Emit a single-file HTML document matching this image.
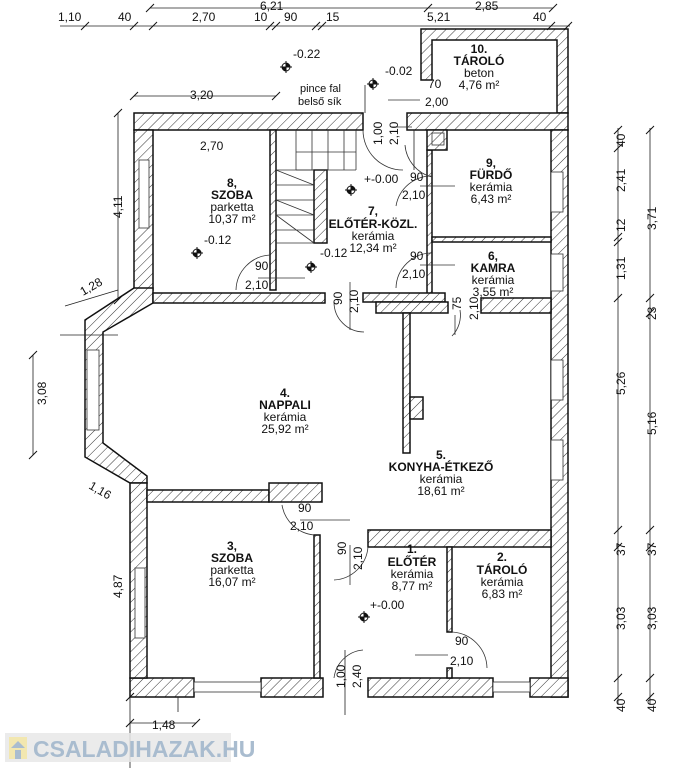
<!DOCTYPE html>
<html><head><meta charset="utf-8"><style>
html,body{margin:0;padding:0;background:#fff}
svg{display:block}
text{font-family:"Liberation Sans",sans-serif;fill:#111}
.t{font-size:12px}
.b{font-size:12px;font-weight:bold}
.d{font-size:12px}
</style></head><body>
<svg width="691" height="768" viewBox="0 0 691 768" xmlns="http://www.w3.org/2000/svg">
<defs>
<pattern id="h" width="7" height="7" patternUnits="userSpaceOnUse" patternTransform="rotate(45)">
<rect width="7" height="7" fill="#fff"/><line x1="0" y1="0" x2="0" y2="7" stroke="#333" stroke-width="1"/>
</pattern>
<g id="lv"><circle r="4" fill="none" stroke="#111" stroke-width="1"/><path d="M-6,0H6M0,-6V6" stroke="#111" stroke-width="1"/><path d="M0,-4A4,4 0 0 1 4,0H0Z M0,4A4,4 0 0 1 -4,0H0Z" fill="#111"/></g>
<g id="tk"><path d="M-4,4L4,-4" stroke="#111" stroke-width="1"/></g>
</defs>
<g fill="url(#h)" stroke="#111" stroke-width="1.5">
<path d="M421,29 H568 V113 H557 V40 H432 V80 H421 Z"/>
<rect x="134" y="113" width="229" height="17"/>
<rect x="407" y="113" width="161" height="17"/>
<rect x="134" y="130" width="19" height="160"/>
<path d="M134,288 L85,320 L85,457 L130,483 L147,483 L147,476 L103,443 L103,332 L153,303 L153,288 Z"/>
<rect x="551" y="130" width="17" height="567"/>
<rect x="130" y="678" width="64" height="19"/>
<rect x="261" y="678" width="62" height="19"/>
<rect x="368" y="678" width="125" height="19"/>
<rect x="530" y="678" width="38" height="19"/>
<rect x="130" y="483" width="17" height="195"/>
<rect x="270" y="130" width="6" height="160"/>
<rect x="153" y="293" width="172" height="10"/>
<rect x="314" y="170" width="13" height="73"/>
<rect x="427" y="150" width="5" height="150"/>
<rect x="432" y="237" width="119" height="5"/>
<rect x="363" y="293" width="82" height="9"/>
<rect x="376" y="302" width="72" height="11"/>
<rect x="403" y="313" width="7" height="140"/>
<rect x="410" y="397" width="13" height="22"/>
<rect x="481" y="298" width="70" height="15"/>
<rect x="147" y="490" width="122" height="12"/>
<rect x="269" y="483" width="53" height="19"/>
<rect x="314" y="535" width="6" height="143"/>
<rect x="368" y="530" width="183" height="17"/>
<rect x="447" y="547" width="5" height="85"/>
<rect x="447" y="668" width="5" height="10"/>
<rect x="427" y="130" width="20" height="20"/>
</g>
<g fill="#fff" stroke="#333" stroke-width="0.8">
<rect x="139" y="160" width="10" height="68"/>
<rect x="551" y="172" width="12" height="40"/>
<rect x="551" y="254" width="12" height="37"/>
<rect x="551" y="360" width="12" height="40"/>
<rect x="551" y="440" width="12" height="40"/>
<rect x="135" y="568" width="10" height="70"/>
<rect x="194" y="682" width="67" height="10"/>
<rect x="493" y="682" width="37" height="10"/>
<rect x="87" y="350" width="12" height="80"/>
</g>
<g stroke="#333" stroke-width="0.8" fill="none">
<path d="M276,170 H314 M276,185 H314 M276,200 H314 M276,215 H314 M276,230 H314 M276,243 H314 M276,170 L314,185 M276,200 L314,215 M276,215 L314,243"/>
<path d="M296,130 V170 M312,130 V170 M328,130 V170 M344,130 V170 M296,152 H356 M356,130 V170 M296,170 H356"/>
<rect x="432" y="133" width="12" height="12"/>
</g>
<g stroke="#333" stroke-width="0.8" fill="none">
<path d="M405,145 A36,36 0 0 0 432,177"/>
<path d="M432,176 A36,36 0 0 0 396,206"/>
<path d="M432,253 A36,36 0 0 0 396,288"/>
<path d="M270,255 A36,36 0 0 0 236,290"/>
<path d="M334,302 A30,30 0 0 0 364,332"/>
<path d="M460,310 A30,30 0 0 1 452,336"/>
<path d="M282,505 A36,36 0 0 0 314,535"/>
<path d="M368,547 A36,36 0 0 1 334,580"/>
<path d="M452,632 A37,37 0 0 1 487,668"/>
<path d="M363,650 A32,32 0 0 0 334,678"/>
<path d="M363,130 A40,40 0 0 0 403,170"/>
<path d="M420,186H455 M420,265H455 M258,278H305 M300,520H350 M415,655H448 M350,282V330 M455,315V335 M350,545V585 M388,100H420 M392,127H412"/>
</g>
<g stroke="#222" stroke-width="0.8" fill="none">
<path d="M150,8 H553 M60,26 H570 M134,96 H276 M118,113 V300 M33,355 V455 M65,306 L118,290 M618,128 V705 M650,128 V705 M130,697 V768 M130,723 H196 M178,697 V712 M345,650 V715 M365,85 V113 M414,130 V170 M60,335H118"/>
</g>
<g>
<use href="#tk" x="150" y="8"/><use href="#tk" x="428" y="8"/><use href="#tk" x="553" y="8"/>
<use href="#tk" x="85" y="26"/><use href="#tk" x="134" y="26"/><use href="#tk" x="153" y="26"/><use href="#tk" x="270" y="26"/><use href="#tk" x="276" y="26"/><use href="#tk" x="316" y="26"/><use href="#tk" x="322" y="26"/><use href="#tk" x="551" y="26"/><use href="#tk" x="568" y="26"/>
<use href="#tk" x="134" y="96"/><use href="#tk" x="276" y="96"/>
<use href="#tk" x="118" y="113"/><use href="#tk" x="118" y="300"/>
<use href="#tk" x="33" y="355"/><use href="#tk" x="33" y="455"/>
<use href="#tk" x="130" y="723"/><use href="#tk" x="196" y="723"/><use href="#tk" x="130" y="697"/>
<use href="#tk" x="618" y="130"/><use href="#tk" x="618" y="148"/><use href="#tk" x="618" y="237"/><use href="#tk" x="618" y="242"/><use href="#tk" x="618" y="298"/><use href="#tk" x="618" y="530"/><use href="#tk" x="618" y="547"/><use href="#tk" x="618" y="678"/><use href="#tk" x="618" y="697"/>
<use href="#tk" x="650" y="130"/><use href="#tk" x="650" y="298"/><use href="#tk" x="650" y="313"/><use href="#tk" x="650" y="530"/><use href="#tk" x="650" y="547"/><use href="#tk" x="650" y="678"/><use href="#tk" x="650" y="697"/>
<use href="#lv" x="286" y="67"/><use href="#lv" x="373" y="84"/><use href="#lv" x="351" y="190"/><use href="#lv" x="197" y="253"/><use href="#lv" x="311" y="267"/><use href="#lv" x="364" y="617"/>
</g>
<g class="d">
<text x="260" y="10">6,21</text><text x="475" y="10">2,85</text>
<text x="58" y="21">1,10</text><text x="118" y="21">40</text><text x="192" y="21">2,70</text>
<text x="254" y="21">10</text><text x="284" y="21">90</text><text x="326" y="21">15</text>
<text x="427" y="21">5,21</text><text x="533" y="21">40</text>
<text x="190" y="99">3,20</text><text x="200" y="150">2,70</text>
<text x="300" y="92" font-size="11">pince fal</text><text x="298" y="105" font-size="11">belső sík</text>
<text x="293" y="58">-0.22</text><text x="385" y="75">-0.02</text>
<text x="428" y="88">70</text><text x="425" y="106">2,00</text>
<text x="364" y="183">+-0.00</text><text x="204" y="244">-0.12</text><text x="320" y="257">-0.12</text>
<text x="410" y="181">90</text><text x="402" y="199">2,10</text>
<text x="410" y="260">90</text><text x="402" y="278">2,10</text>
<text x="255" y="270">90</text><text x="245" y="289">2,10</text>
<text x="298" y="512">90</text><text x="290" y="530">2,10</text>
<text x="455" y="645">90</text><text x="450" y="665">2,10</text>
<text x="370" y="609">+-0.00</text>
<text x="152" y="729">1,48</text>
</g>
<g class="d">
<text transform="translate(122,218) rotate(-90)">4,11</text>
<text transform="translate(122,598) rotate(-90)">4,87</text>
<text transform="translate(46,405) rotate(-90)">3,08</text>
<text transform="translate(83,296) rotate(-30)">1,28</text>
<text transform="translate(88,488) rotate(30)">1,16</text>
<text transform="translate(382,145) rotate(-90)">1,00</text>
<text transform="translate(398,145) rotate(-90)">2,10</text>
<text transform="translate(342,305) rotate(-90)">90</text>
<text transform="translate(358,313) rotate(-90)">2,10</text>
<text transform="translate(461,310) rotate(-90)">75</text>
<text transform="translate(478,320) rotate(-90)">2,10</text>
<text transform="translate(346,555) rotate(-90)">90</text>
<text transform="translate(362,570) rotate(-90)">2,10</text>
<text transform="translate(345,688) rotate(-90)">1,00</text>
<text transform="translate(361,688) rotate(-90)">2,40</text>
<text transform="translate(625,147) rotate(-90)">40</text>
<text transform="translate(625,192) rotate(-90)">2,41</text>
<text transform="translate(625,232) rotate(-90)">12</text>
<text transform="translate(625,280) rotate(-90)">1,31</text>
<text transform="translate(625,395) rotate(-90)">5,26</text>
<text transform="translate(625,556) rotate(-90)">37</text>
<text transform="translate(625,630) rotate(-90)">3,03</text>
<text transform="translate(625,712) rotate(-90)">40</text>
<text transform="translate(656,230) rotate(-90)">3,71</text>
<text transform="translate(656,320) rotate(-90)">23</text>
<text transform="translate(656,435) rotate(-90)">5,16</text>
<text transform="translate(656,556) rotate(-90)">37</text>
<text transform="translate(656,630) rotate(-90)">3,03</text>
<text transform="translate(656,712) rotate(-90)">40</text>
</g>
<g text-anchor="middle">
<text x="479" y="53" class="b">10.</text><text x="479" y="65" class="b">TÁROLÓ</text><text x="479" y="77" class="t">beton</text><text x="479" y="89" class="t">4,76 m²</text>
<text x="232" y="187" class="b">8,</text><text x="232" y="199" class="b">SZOBA</text><text x="232" y="211" class="t">parketta</text><text x="232" y="223" class="t">10,37 m²</text>
<text x="491" y="167" class="b">9,</text><text x="491" y="179" class="b">FÜRDŐ</text><text x="491" y="191" class="t">kerámia</text><text x="491" y="203" class="t">6,43 m²</text>
<text x="373" y="215" class="b">7,</text><text x="373" y="228" class="b">ELŐTÉR-KÖZL.</text><text x="373" y="240" class="t">kerámia</text><text x="373" y="252" class="t">12,34 m²</text>
<text x="493" y="260" class="b">6,</text><text x="493" y="272" class="b">KAMRA</text><text x="493" y="284" class="t">kerámia</text><text x="493" y="296" class="t">3,55 m²</text>
<text x="285" y="397" class="b">4.</text><text x="285" y="409" class="b">NAPPALI</text><text x="285" y="421" class="t">kerámia</text><text x="285" y="433" class="t">25,92 m²</text>
<text x="441" y="459" class="b">5.</text><text x="441" y="471" class="b">KONYHA-ÉTKEZŐ</text><text x="441" y="483" class="t">kerámia</text><text x="441" y="495" class="t">18,61 m²</text>
<text x="232" y="550" class="b">3,</text><text x="232" y="562" class="b">SZOBA</text><text x="232" y="574" class="t">parketta</text><text x="232" y="586" class="t">16,07 m²</text>
<text x="412" y="553" class="b">1.</text><text x="412" y="566" class="b">ELŐTÉR</text><text x="412" y="578" class="t">kerámia</text><text x="412" y="590" class="t">8,77 m²</text>
<text x="502" y="561" class="b">2.</text><text x="502" y="574" class="b">TÁROLÓ</text><text x="502" y="586" class="t">kerámia</text><text x="502" y="598" class="t">6,83 m²</text>
</g>
<rect x="5" y="733" width="226" height="29" fill="#e8e8e8" fill-opacity="0.85"/>
<rect x="9" y="737" width="18" height="22" fill="#f2e7b0"/>
<path d="M11,748 L18,741 L25,748 Z M15,750 H21 V759 H15 Z" fill="#a9bccf"/>
<text x="33" y="757" font-size="23" font-weight="bold" style="fill:#a9bccf">CSALADIHAZAK.HU</text>
</svg>
</body></html>
